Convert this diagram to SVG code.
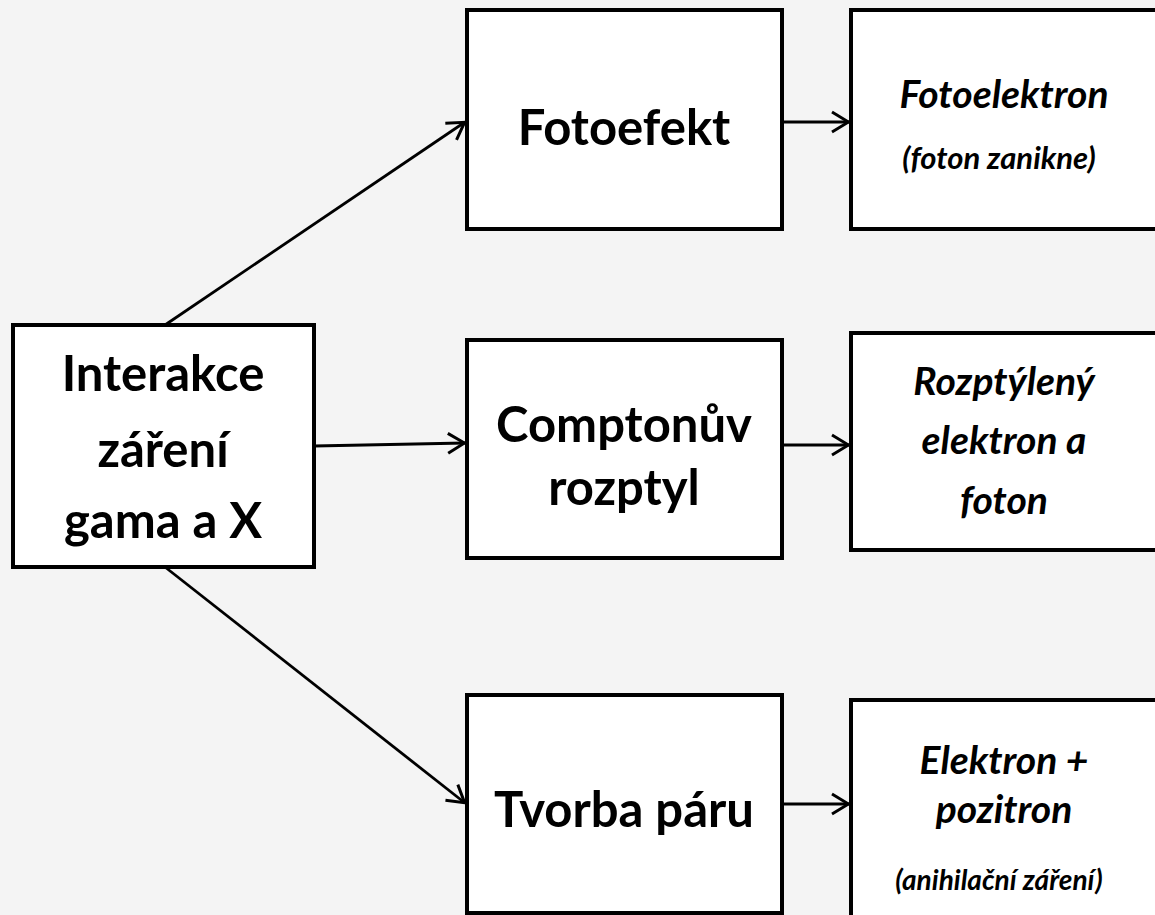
<svg xmlns="http://www.w3.org/2000/svg" width="1155" height="915" viewBox="0 0 1155 915">
  <style>
    .box { fill: #ffffff; stroke: #000000; stroke-width: 4; }
    .link { fill: none; stroke: #000000; stroke-width: 2.8; }
    .main { font-family: Lato, "Liberation Sans", sans-serif; font-weight: 700; font-size: 49px; fill: #000; text-anchor: middle; }
    .out { font-family: Lato, "Liberation Sans", sans-serif; font-weight: 700; font-style: italic; font-size: 39px; fill: #000; text-anchor: middle; }
    .note { font-family: Lato, "Liberation Sans", sans-serif; font-weight: 700; font-style: italic; fill: #000; text-anchor: middle; }
  </style>
  <defs>
    <marker id="arrow" viewBox="0 0 20 24" refX="19" refY="12" markerWidth="20" markerHeight="24" markerUnits="userSpaceOnUse" orient="auto">
      <path d="M2,2 L18.5,12 L2,22" fill="none" stroke="#000" stroke-width="3"/>
    </marker>
  </defs>

  <rect width="1155" height="915" fill="#f4f4f4"/>

  <g id="connectors">
    <line class="link" x1="165" y1="325" x2="465" y2="122" marker-end="url(#arrow)"/>
    <line class="link" x1="314" y1="446" x2="465" y2="443" marker-end="url(#arrow)"/>
    <line class="link" x1="165" y1="567" x2="465" y2="803" marker-end="url(#arrow)"/>
    <line class="link" x1="782" y1="122" x2="849" y2="122" marker-end="url(#arrow)"/>
    <line class="link" x1="782" y1="445" x2="849" y2="445" marker-end="url(#arrow)"/>
    <line class="link" x1="782" y1="804" x2="849" y2="804" marker-end="url(#arrow)"/>
  </g>

  <g id="interakce">
    <rect class="box" x="13" y="325" width="301" height="242"/>
    <text class="main" x="163" y="391">Interakce</text>
    <text class="main" x="163" y="467">záření</text>
    <text class="main" x="163" y="538">gama a X</text>
  </g>

  <g id="fotoefekt">
    <rect class="box" x="467" y="10" width="315" height="219"/>
    <text class="main" x="624" y="145">Fotoefekt</text>
  </g>

  <g id="compton">
    <rect class="box" x="467" y="340" width="315" height="218"/>
    <text class="main" x="624" y="442">Comptonův</text>
    <text class="main" x="624" y="505">rozptyl</text>
  </g>

  <g id="tvorba">
    <rect class="box" x="467" y="695" width="315" height="218"/>
    <text class="main" x="624" y="827">Tvorba páru</text>
  </g>

  <g id="fotoelektron">
    <rect class="box" x="851" y="10" width="320" height="219"/>
    <text class="out" x="1004" y="108">Fotoelektron</text>
    <text class="note" x="999" y="169" font-size="31">(foton zanikne)</text>
  </g>

  <g id="rozptyleny">
    <rect class="box" x="851" y="333" width="320" height="217"/>
    <text class="out" x="1004" y="395">Rozptýlený</text>
    <text class="out" x="1004" y="454">elektron a</text>
    <text class="out" x="1004" y="514">foton</text>
  </g>

  <g id="elektron">
    <rect class="box" x="851" y="700" width="320" height="230"/>
    <text class="out" x="1004" y="774">Elektron +</text>
    <text class="out" x="1004" y="823">pozitron</text>
    <text class="note" x="999" y="890" font-size="28">(anihilační záření)</text>
  </g>
</svg>
